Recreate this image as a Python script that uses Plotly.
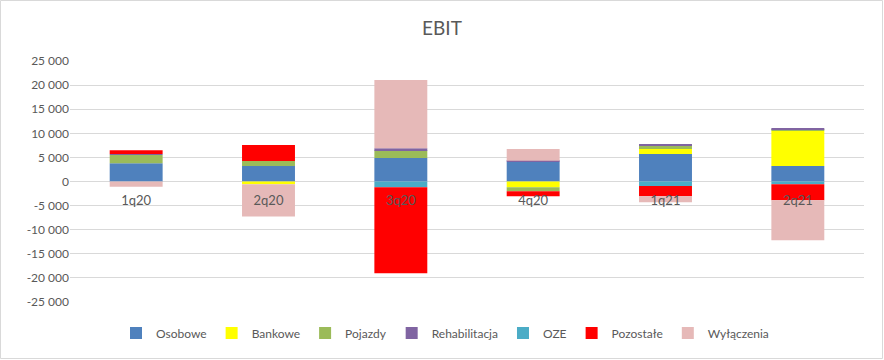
import plotly.graph_objects as go

categories = ["1q20", "2q20", "3q20", "4q20", "1q21", "2q21"]
osobowe = [3800, 3200, 4850, 4150, 5700, 3200]
bankowe = [0, -550, 0, -1200, 1050, 7350]
pojazdy = [1700, 1050, 1650, -800, 750, 150]
rehabilitacja = [200, 0, 400, 150, 300, 400]
oze = [0, 0, -1200, 0, -950, -550]
pozostale = [800, 3300, -17850, -1050, -2100, -3350]
wylaczenia = [-1100, -6700, 14150, 2450, -1250, -8300]

series_names = ["Osobowe", "Bankowe", "Pojazdy", "Rehabilitacja", "OZE", "Pozostałe", "Wyłączenia"]
series_values = [osobowe, bankowe, pojazdy, rehabilitacja, oze, pozostale, wylaczenia]
series_colors = ["#4F81BD", "#FFFF00", "#9BBB59", "#8064A2", "#4BACC6", "#FF0000", "#E6B9B8"]

y_tickvals = [25000, 20000, 15000, 10000, 5000, 0, -5000, -10000, -15000, -20000, -25000]
y_ticktext = ["25 000", "20 000", "15 000", "10 000", "5 000", "0", "-5 000", "-10 000", "-15 000", "-20 000", "-25 000"]

fig = go.Figure()
for name, vals, col in zip(series_names, series_values, series_colors):
    fig.add_trace(go.Bar(x=categories, y=vals, name=name, marker=dict(color=col, line=dict(width=0))))

W, H = 884, 360
ml, mr, mt, mb = 70, 20, 61, 58
pw, ph = W - ml - mr, H - mt - mb

fig.update_layout(
    width=W, height=H,
    barmode="relative",
    bargap=0.6,
    paper_bgcolor="white", plot_bgcolor="white",
    margin=dict(l=ml, r=mr, t=mt, b=mb, pad=0),
    font=dict(family="Lato, Liberation Sans, sans-serif", size=12, color="#595959"),
    title=dict(text="EBIT", x=0.5, xref="container", y=1 - 28 / H, yref="container",
               xanchor="center", yanchor="middle",
               font=dict(size=19, color="#595959", family="Lato, sans-serif")),
    xaxis=dict(anchor="free", position=0.5, showline=False, showgrid=False,
               ticks="outside", ticklen=7, tickcolor="rgba(0,0,0,0)",
               tickfont=dict(size=13, color="#595959")),
    yaxis=dict(range=[-25000, 25000], tickvals=y_tickvals, ticktext=y_ticktext,
               showgrid=True, gridcolor="#D9D9D9", gridwidth=1,
               zeroline=True, zerolinecolor="#D9D9D9", zerolinewidth=1,
               showline=False, ticks="", tickfont=dict(size=12, color="#595959")),
    legend=dict(orientation="h", x=(445 - ml) / pw, xanchor="center",
                y=-(333 - (mt + ph)) / ph, yanchor="middle",
                font=dict(size=12, color="#595959"), traceorder="normal",
                itemwidth=30, bgcolor="rgba(0,0,0,0)"),
    shapes=[dict(type="rect", xref="paper", yref="paper",
                 x0=-(ml - 0.5) / pw, x1=1 + (mr - 1.5) / pw,
                 y0=-(mb - 1.5) / ph, y1=1 + (mt - 0.5) / ph,
                 line=dict(color="#D9D9D9", width=1), layer="below")],
)

fig.write_html("out.html", config={"displayModeBar": False},
               post_script="document.body.style.margin='0';document.body.style.padding='0';")
